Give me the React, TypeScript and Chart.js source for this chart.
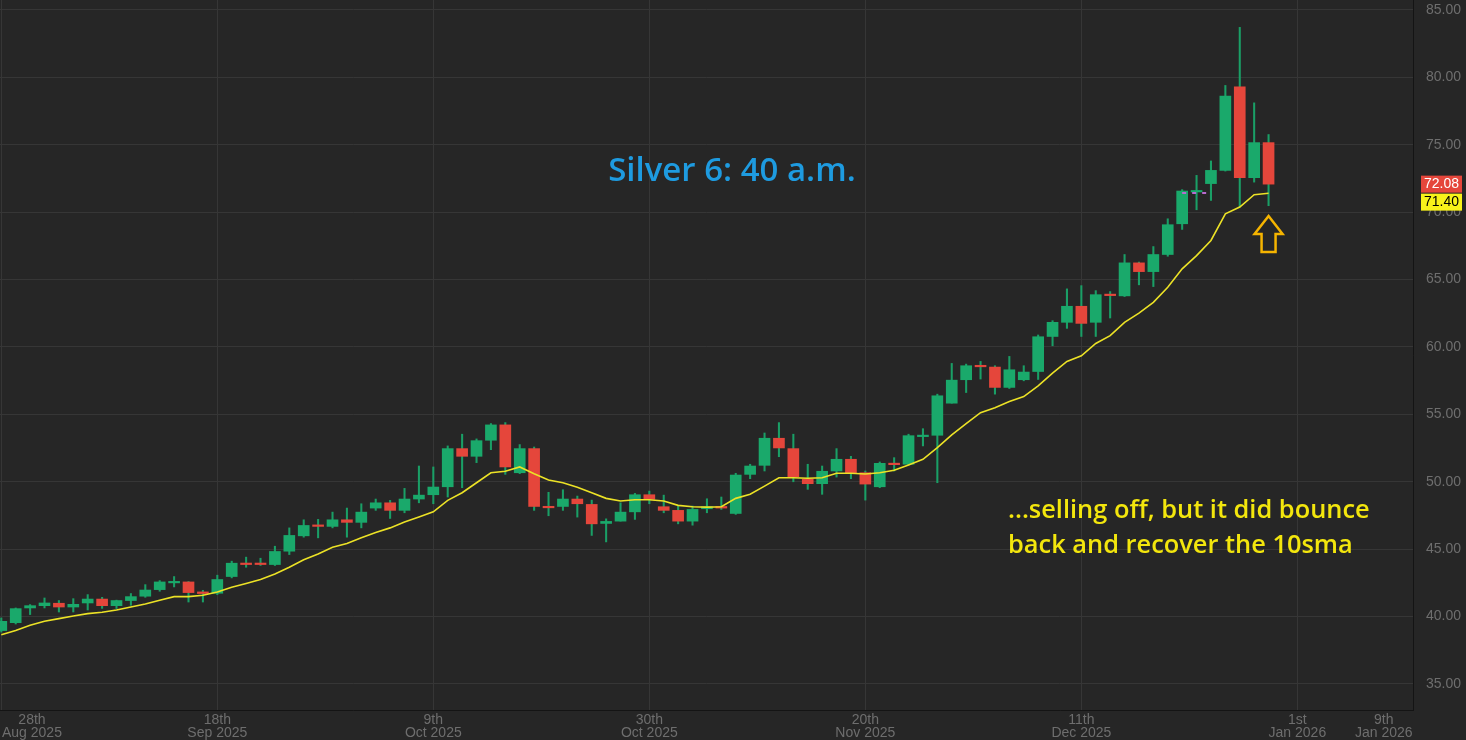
import React, { useEffect, useRef } from "react";
import { Chart, registerables } from "chart.js";

Chart.register(...registerables);

// ---- Data ----
const opens = [
  38.96, 39.55, 40.64, 40.81, 40.99, 40.71, 41.01, 41.30, 40.81, 41.19,
  41.51, 42.00, 42.50, 42.57, 41.83, 41.73, 42.97, 43.96, 43.96, 43.86,
  44.85, 45.99, 46.78, 46.69, 47.18, 46.99, 48.05, 48.44, 47.88, 48.72,
  49.04, 49.63, 52.46, 51.89, 53.08, 54.22, 50.67, 52.46, 48.17, 48.17,
  48.72, 48.32, 46.91, 47.08, 47.77, 49.04, 48.15, 47.88, 47.08, 48.00,
  48.17, 47.65, 50.55, 51.22, 53.23, 52.46, 50.18, 49.86, 50.80, 51.67,
  50.67, 49.63, 51.37, 51.30, 53.35, 53.45, 55.83, 57.57, 58.61, 58.51,
  57.00, 57.57, 58.18, 60.78, 61.83, 63.02, 61.83, 63.88, 63.79, 66.24,
  65.59, 66.86, 69.14, 71.50, 72.12, 73.10, 79.30, 72.56, 75.16,
];
const highs = [
  39.90, 40.64, 40.89, 41.38, 41.19, 41.33, 41.63, 41.43, 41.22, 41.71,
  42.37, 42.67, 42.97, 42.60, 41.95, 43.07, 44.11, 44.41, 44.33, 45.22,
  46.58, 47.18, 47.21, 47.75, 48.05, 48.37, 48.72, 48.62, 49.51, 51.17,
  51.10, 52.66, 53.53, 53.18, 54.32, 54.39, 52.76, 52.58, 49.22, 49.41,
  48.94, 48.64, 47.25, 48.44, 49.14, 49.31, 49.01, 48.20, 48.20, 48.74,
  48.87, 50.63, 51.30, 53.62, 54.39, 53.53, 51.30, 51.17, 52.46, 51.89,
  50.80, 51.47, 51.79, 53.53, 53.94, 56.50, 58.78, 58.73, 58.93, 58.61,
  59.30, 58.61, 60.89, 61.95, 64.31, 64.55, 64.18, 64.11, 66.86, 66.30,
  67.45, 69.51, 71.67, 72.73, 73.80, 79.40, 83.71, 78.11, 75.76,
];
const lows = [
  38.85, 39.45, 40.15, 40.64, 40.34, 40.34, 40.49, 40.61, 40.60, 40.84,
  41.43, 41.88, 42.20, 41.08, 41.08, 41.63, 42.87, 43.66, 43.79, 43.79,
  44.60, 45.89, 45.84, 46.58, 45.89, 46.58, 47.88, 47.28, 47.70, 48.44,
  48.37, 48.87, 49.56, 51.42, 52.38, 50.55, 50.60, 47.88, 47.48, 47.88,
  47.38, 46.02, 45.54, 47.08, 47.21, 48.37, 47.70, 46.88, 46.78, 47.70,
  47.95, 47.58, 50.23, 50.80, 51.86, 50.00, 49.44, 49.07, 50.35, 50.23,
  48.64, 49.56, 50.80, 51.25, 52.66, 49.93, 55.83, 56.62, 57.62, 56.50,
  56.92, 57.49, 57.59, 60.09, 61.38, 60.78, 60.78, 62.15, 63.74, 64.61,
  64.48, 66.73, 68.72, 70.18, 70.87, 73.05, 70.38, 72.23, 70.48,
];
const closes = [
  39.65, 40.59, 40.81, 41.01, 40.71, 40.91, 41.30, 40.81, 41.19, 41.48,
  41.97, 42.57, 42.57, 41.78, 41.71, 42.75, 43.96, 43.86, 43.86, 44.83,
  46.02, 46.76, 46.69, 47.18, 46.99, 47.75, 48.44, 47.88, 48.72, 49.01,
  49.61, 52.46, 51.89, 53.05, 54.22, 51.10, 52.46, 48.17, 48.07, 48.72,
  48.37, 46.88, 47.06, 47.75, 49.04, 48.70, 47.88, 47.08, 47.95, 48.15,
  48.05, 50.50, 51.17, 53.23, 52.51, 50.38, 49.86, 50.78, 51.67, 50.67,
  49.83, 51.37, 51.27, 53.42, 53.45, 56.38, 57.54, 58.61, 58.53, 57.00,
  58.31, 58.14, 60.76, 61.83, 63.02, 61.75, 63.88, 63.81, 66.24, 65.59,
  66.86, 69.07, 71.57, 71.60, 73.10, 78.61, 72.56, 75.16, 72.08,
];
const sma10 = [
  38.66, 38.96, 39.35, 39.65, 39.85, 40.04, 40.22, 40.32, 40.49, 40.71,
  40.93, 41.21, 41.48, 41.48, 41.58, 41.83, 42.17, 42.45, 42.75, 43.16,
  43.66, 44.21, 44.65, 45.15, 45.42, 45.84, 46.24, 46.58, 47.01, 47.38,
  47.77, 48.62, 49.19, 49.93, 50.67, 50.78, 51.10, 50.60, 50.13, 49.93,
  49.60, 49.19, 48.77, 48.57, 48.67, 48.67, 48.57, 48.25, 48.15, 48.12,
  48.15, 48.77, 49.07, 49.68, 50.30, 50.30, 50.26, 50.30, 50.63, 50.63,
  50.58, 50.67, 50.85, 51.25, 51.67, 52.53, 53.48, 54.32, 55.13, 55.50,
  55.95, 56.32, 57.12, 58.06, 58.93, 59.35, 60.26, 60.84, 61.83, 62.51,
  63.31, 64.43, 65.80, 66.78, 67.90, 69.88, 70.38, 71.30, 71.40,
];
const dashedLevel = [
  { x: 82, y: 71.42 },
  { x: 84, y: 71.42 },
];

const xTickPositions = [0, 2.13, 15, 30, 45, 60, 75, 90, 96];
const xTickLabels: string[][] = [
  [""],
  ["28th", "Aug 2025"],
  ["18th", "Sep 2025"],
  ["9th", "Oct 2025"],
  ["30th", "Oct 2025"],
  ["20th", "Nov 2025"],
  ["11th", "Dec 2025"],
  ["1st", "Jan 2026"],
  ["9th", "Jan 2026"],
];
const xNoGrid = [2.13, 96];
const yTicks = [35, 40, 45, 50, 55, 60, 65, 70, 75, 80, 85];

const titleText = "Silver 6: 40 a.m.";
const noteLines = ["...selling off, but it did bounce", "back and recover the 10sma"];

const BG = "#262626";
const GRID = "#363636";
const GREEN = "#1aa96b";
const WICK = "#1a9f66";
const RED = "#e5463b";
const SMA = "#ece226";

const annotationPlugin = {
  id: "annotations",
  beforeDraw(chart: any) {
    const { ctx, width, height } = chart;
    ctx.save();
    ctx.fillStyle = BG;
    ctx.fillRect(0, 0, width, height);
    ctx.restore();
  },
  afterDraw(chart: any) {
    const { ctx, chartArea, scales } = chart;
    const xs = scales.x;
    const ys = scales.y;
    ctx.save();
    // title
    ctx.font = '600 33px "Open Sans"';
    ctx.fillStyle = "#1e9be0";
    ctx.textAlign = "center";
    ctx.textBaseline = "middle";
    ctx.fillText(titleText, chartArea.left + chartArea.width * 0.518, 172);

    // note
    ctx.font = '600 25.4px "Open Sans"';
    ctx.fillStyle = "#f3e60d";
    ctx.textAlign = "left";
    ctx.fillText(noteLines[0], 1008, 511);
    ctx.fillText(noteLines[1], 1008, 546);

    // arrow under last candle
    const last = closes.length - 1;
    const cx = xs.getPixelForValue(last);
    const tipY = ys.getPixelForValue(69.72);
    ctx.beginPath();
    ctx.moveTo(cx, tipY);
    ctx.lineTo(cx + 14, tipY + 18);
    ctx.lineTo(cx + 7, tipY + 18);
    ctx.lineTo(cx + 7, tipY + 36);
    ctx.lineTo(cx - 7, tipY + 36);
    ctx.lineTo(cx - 7, tipY + 18);
    ctx.lineTo(cx - 14, tipY + 18);
    ctx.closePath();
    ctx.strokeStyle = "#f5b400";
    ctx.lineWidth = 2.5;
    ctx.lineJoin = "miter";
    ctx.stroke();

    // price labels on axis
    const bx = chartArea.right + 8;
    const bw = 41;
    const bh = 17;
    const yClose = ys.getPixelForValue(closes[last]);
    ctx.font = '14px "Liberation Sans", Arial';
    ctx.textAlign = "center";
    ctx.textBaseline = "middle";
    ctx.fillStyle = RED;
    ctx.fillRect(bx, yClose - bh / 2, bw, bh);
    ctx.fillStyle = "#ffffff";
    ctx.fillText(closes[last].toFixed(2), bx + bw / 2, yClose + 0.5);
    const ySma = Math.max(ys.getPixelForValue(sma10[last]), yClose + bh / 2 + 1 + bh / 2);
    ctx.fillStyle = "#f8f21a";
    ctx.fillRect(bx, ySma - bh / 2, bw, bh);
    ctx.fillStyle = "#000000";
    ctx.fillText(sma10[last].toFixed(2), bx + bw / 2, ySma + 0.5);
    ctx.restore();
  },
};

export default function App() {
  const canvasRef = useRef<HTMLCanvasElement | null>(null);

  useEffect(() => {
    const canvas = canvasRef.current;
    if (!canvas) return;
    const bodyColors = closes.map((c, i) => (c >= opens[i] ? GREEN : RED));

    const chart = new Chart(canvas, {
      type: "bar",
      data: {
        datasets: [
          {
            type: "line",
            label: "10sma",
            data: sma10.map((v, i) => ({ x: i, y: v })),
            borderColor: SMA,
            borderWidth: 1.6,
            pointRadius: 0,
            tension: 0,
            order: 1,
          } as any,
          {
            type: "line",
            label: "level",
            data: dashedLevel,
            borderColor: "#b86ad0",
            borderWidth: 2,
            borderDash: [4, 6],
            pointRadius: 0,
            order: 2,
          } as any,
          {
            type: "bar",
            label: "body",
            data: closes.map((c, i) => ({ x: i, y: [opens[i], c] })),
            backgroundColor: bodyColors,
            borderWidth: 0,
            barThickness: 11,
            minBarLength: 1.5,
            grouped: false,
            order: 3,
          } as any,
          {
            type: "bar",
            label: "wick",
            data: closes.map((_, i) => ({ x: i, y: [lows[i], highs[i]] })),
            backgroundColor: WICK,
            borderWidth: 0,
            barThickness: 1.4,
            grouped: false,
            order: 4,
          } as any,
        ],
      },
      options: {
        animation: false,
        responsive: false,
        maintainAspectRatio: false,
        layout: { padding: { left: 0, right: 5, top: 0, bottom: 0 } },
        plugins: {
          legend: { display: false },
          tooltip: { enabled: false },
        },
        scales: {
          x: {
            type: "linear",
            min: -0.09,
            max: 98.03,
            offset: false,
            afterBuildTicks: (scale: any) => {
              scale.ticks = xTickPositions.map((v) => ({ value: v }));
            },
            afterFit: (scale: any) => {
              scale.height = 30;
              scale.paddingLeft = 0;
              scale.paddingRight = 0;
            },
            ticks: {
              autoSkip: false,
              maxRotation: 0,
              minRotation: 0,
              padding: 3.5,
              color: "#6e6e6e",
              font: { family: '"Liberation Sans", Arial', size: 14, lineHeight: 0.93 },
              callback: (_v: any, idx: number) => xTickLabels[idx],
            },
            grid: {
              offset: false,
              drawTicks: false,
              color: (ctx: any) =>
                ctx.tick && xNoGrid.includes(ctx.tick.value) ? "rgba(0,0,0,0)" : GRID,
            },
            border: { display: true, color: "#141414", width: 1 },
          },
          y: {
            type: "linear",
            position: "right",
            min: 33.07,
            max: 85.74,
            afterBuildTicks: (scale: any) => {
              scale.ticks = yTicks.map((v) => ({ value: v }));
            },
            afterFit: (scale: any) => {
              scale.width = 48;
              scale.paddingTop = 0;
              scale.paddingBottom = 0;
            },
            ticks: {
              crossAlign: "far",
              color: "#6e6e6e",
              font: { family: '"Liberation Sans", Arial', size: 14 },
              callback: (v: any) => Number(v).toFixed(2),
            },
            grid: { drawTicks: false, color: GRID },
            border: { display: true, color: "#141414", width: 1 },
          },
        },
      },
      plugins: [annotationPlugin],
    } as any);

    return () => chart.destroy();
  }, []);

  return (
    <div style={{ position: "fixed", left: 0, top: 0, width: 1466, height: 740, background: BG }}>
      <canvas ref={canvasRef} width={1466} height={740} style={{ display: "block" }} />
    </div>
  );
}
